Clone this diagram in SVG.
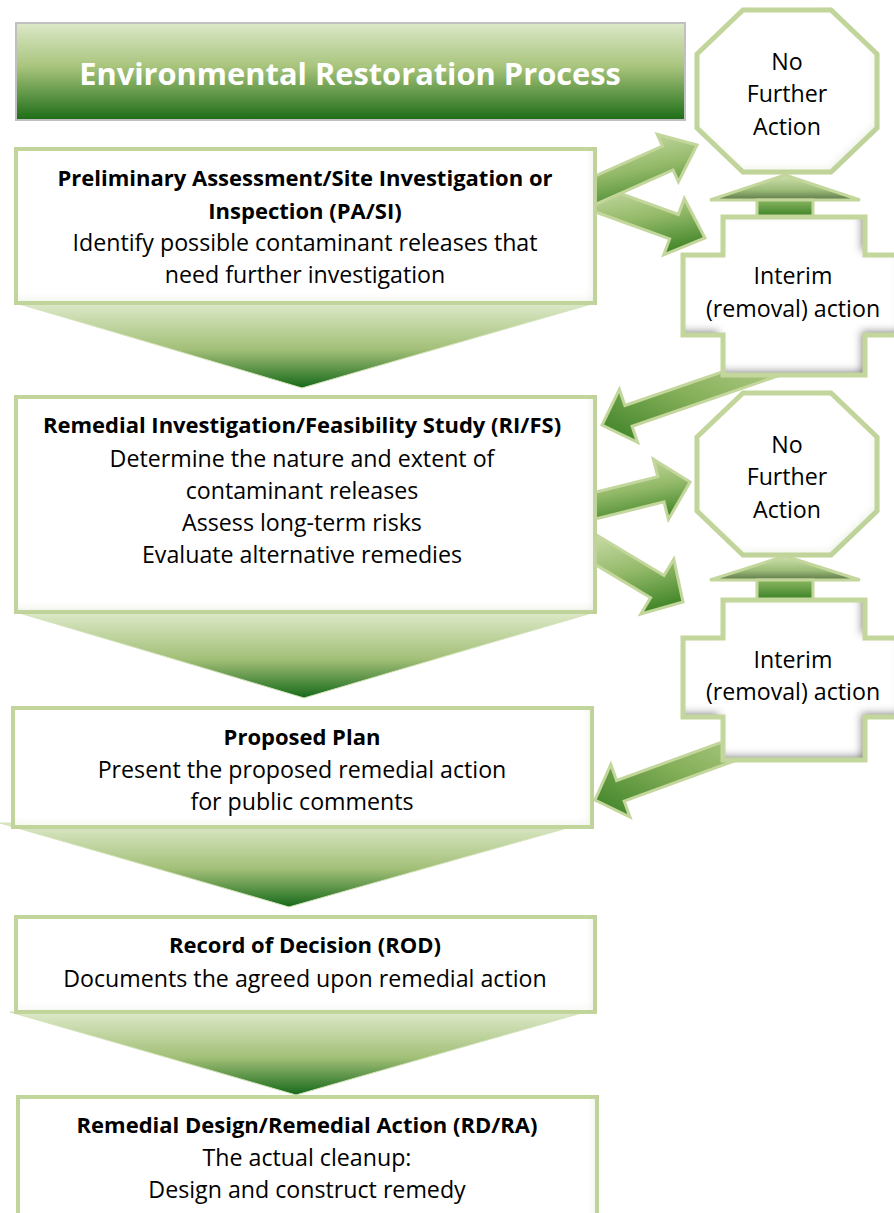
<svg xmlns="http://www.w3.org/2000/svg" width="894" height="1213" viewBox="0 0 894 1213">
<defs>
<style>
.t{font-family:"Open Sans","Liberation Sans",sans-serif;font-size:23.2px;fill:#000;text-anchor:middle}
.b{font-weight:bold;font-size:22px}
.box{fill:#fff;stroke:#c3d69b;stroke-width:4}
.oct{fill:#fff;stroke:#c3d69b;stroke-width:5;stroke-linejoin:miter}
.chev{fill:url(#chevG);stroke:#d3e2b8;stroke-width:1}
.arr{stroke:#c3d69b;stroke-width:3;stroke-linejoin:miter}
.title{font-family:"Open Sans","Liberation Sans",sans-serif;font-size:30.8px;font-weight:bold;fill:#fff;text-anchor:middle}
</style>
<linearGradient id="titleG" x1="0" y1="0" x2="0" y2="1">
<stop offset="0" stop-color="#dce8c8"/>
<stop offset="0.45" stop-color="#a8c47c"/>
<stop offset="1" stop-color="#1c6c16"/>
</linearGradient>
<linearGradient id="chevG" x1="0" y1="0" x2="0" y2="1">
<stop offset="0" stop-color="#dde9c9"/>
<stop offset="0.55" stop-color="#a2bf77"/>
<stop offset="1" stop-color="#16691a"/>
</linearGradient>
<linearGradient id="arrDown" x1="0.3" y1="0" x2="0.6" y2="1">
<stop offset="0" stop-color="#c8dba6"/>
<stop offset="0.5" stop-color="#93b968"/>
<stop offset="1" stop-color="#3f8427"/>
</linearGradient>
<linearGradient id="arrLeft" x1="1" y1="0" x2="0" y2="1">
<stop offset="0" stop-color="#b9d08f"/>
<stop offset="0.5" stop-color="#86b05a"/>
<stop offset="1" stop-color="#3a8025"/>
</linearGradient>
<linearGradient id="upHead" x1="0" y1="0" x2="0" y2="1">
<stop offset="0" stop-color="#d0e1b0"/>
<stop offset="0.6" stop-color="#9cbc78"/>
<stop offset="1" stop-color="#5d7748"/>
</linearGradient>
<linearGradient id="upShaft" x1="0" y1="0" x2="0" y2="1">
<stop offset="0" stop-color="#8ab661"/>
<stop offset="1" stop-color="#2f7a1e"/>
</linearGradient>
<filter id="boxShade" x="-5%" y="-5%" width="110%" height="110%">
<feComponentTransfer in="SourceAlpha"><feFuncA type="table" tableValues="1 0"/></feComponentTransfer>
<feGaussianBlur stdDeviation="5"/>
<feOffset dx="-3" dy="-4" result="ob"/>
<feFlood flood-color="#b7cc98" flood-opacity="0.45"/>
<feComposite in2="ob" operator="in"/>
<feComposite in2="SourceAlpha" operator="in" result="sh"/>
<feMerge><feMergeNode in="SourceGraphic"/><feMergeNode in="sh"/></feMerge>
</filter>
<filter id="crossShade" x="-10%" y="-10%" width="120%" height="120%">
<feComponentTransfer in="SourceAlpha"><feFuncA type="table" tableValues="1 0"/></feComponentTransfer>
<feGaussianBlur stdDeviation="4"/>
<feOffset dx="-4" dy="-4" result="ob"/>
<feFlood flood-color="#505050" flood-opacity="0.9"/>
<feComposite in2="ob" operator="in"/>
<feComposite in2="SourceAlpha" operator="in" result="sh"/>
<feMerge><feMergeNode in="SourceGraphic"/><feMergeNode in="sh"/></feMerge>
</filter>
</defs>
<rect width="894" height="1213" fill="#fff"/>

<g id="connectors">
<polygon class="chev" points="16,303 595,303 302,388"/>
<polygon class="chev" points="16,612 595,612 304,698"/>
<polygon class="chev" points="0,823 585,823 289,907"/>
<polygon class="chev" points="10,1012 585,1012 296,1095"/>
<polygon class="arr" fill="url(#arrDown)" points="591.9,183.1 678.4,214.5 684.3,198.5 705,238 663.7,254.9 669.6,238.9 583.1,207.5"/>
<polygon class="arr" fill="url(#arrDown)" points="577.5,183.9 662.5,146.1 657.2,134.2 697,145 678.4,181.8 673.1,169.9 588.1,207.7"/>
<polygon class="arr" fill="url(#arrLeft)" points="778,352.7 624.9,405.5 619.4,389.4 602,425 637.6,442.4 632.1,426.3 784.9,373.5"/>
<polygon class="arr" fill="url(#arrDown)" points="580.2,496 657.8,476.7 653.4,459.2 690,482 668.4,519.4 664,501.9 586.4,521.2"/>
<polygon class="arr" fill="url(#arrDown)" points="591.1,531.7 664,575.5 673.8,559.2 683,602 640.8,614 650.6,597.7 577.7,553.9"/>
<polygon class="arr" fill="url(#arrLeft)" points="765,726.4 616.6,780.5 610.8,764.5 595,800 630,817.1 624.2,801.1 772.6,747"/>
<g class="arr">
<polygon fill="url(#upHead)" points="785,175 860,200 710,200"/>
<rect x="757" y="200" width="56" height="19" fill="url(#upShaft)"/>
</g>
<g class="arr">
<polygon fill="url(#upHead)" points="785,556 860,580 710,580"/>
<rect x="757" y="580" width="56" height="22" fill="url(#upShaft)"/>
</g>
</g>

<g id="title">
<rect x="16" y="23" width="669" height="97" fill="url(#titleG)" stroke="#c0c0c0" stroke-width="2"/>
<text class="title" x="350" y="85">Environmental Restoration Process</text>
</g>

<g id="pasi">
<rect class="box" x="16" y="149" width="579" height="154" filter="url(#boxShade)"/>
<text class="t b" x="305" y="186">Preliminary Assessment/Site Investigation or</text>
<text class="t b" x="305" y="219">Inspection (PA/SI)</text>
<text class="t" x="305" y="251">Identify possible contaminant releases that</text>
<text class="t" x="305" y="283">need further investigation</text>
</g>

<g id="rifs">
<rect class="box" x="16" y="397" width="579" height="215" filter="url(#boxShade)"/>
<text class="t b" x="302" y="433">Remedial Investigation/Feasibility Study (RI/FS)</text>
<text class="t" x="302" y="467">Determine the nature and extent of</text>
<text class="t" x="302" y="499">contaminant releases</text>
<text class="t" x="302" y="531">Assess long-term risks</text>
<text class="t" x="302" y="563">Evaluate alternative remedies</text>
</g>

<g id="plan">
<rect class="box" x="13" y="708" width="579" height="119" filter="url(#boxShade)"/>
<text class="t b" x="302" y="745">Proposed Plan</text>
<text class="t" x="302" y="778">Present the proposed remedial action</text>
<text class="t" x="302" y="810">for public comments</text>
</g>

<g id="rod">
<rect class="box" x="16" y="917" width="579" height="95" filter="url(#boxShade)"/>
<text class="t b" x="305" y="953">Record of Decision (ROD)</text>
<text class="t" x="305" y="987">Documents the agreed upon remedial action</text>
</g>

<g id="rdra">
<rect class="box" x="18" y="1097" width="579" height="130" filter="url(#boxShade)"/>
<text class="t b" x="307" y="1133">Remedial Design/Remedial Action (RD/RA)</text>
<text class="t" x="307" y="1166">The actual cleanup:</text>
<text class="t" x="307" y="1198">Design and construct remedy</text>
</g>

<g id="nfa1">
<polygon class="oct" points="743,10 831,10 877,54 877,128 831,172 743,172 697,128 697,54" filter="url(#boxShade)"/>
<text class="t" x="787" y="70">No</text>
<text class="t" x="787" y="102">Further</text>
<text class="t" x="787" y="135">Action</text>
</g>

<g id="interim1">
<path d="M723,217 H865 V255 H905 V335 H865 V375 H723 V335 H683 V255 H723 Z" fill="#fff" filter="url(#crossShade)"/>
<path d="M723,217 H865 V255 H905 V335 H865 V375 H723 V335 H683 V255 H723 Z" fill="none" stroke="#c3d69b" stroke-width="5"/>
<text class="t" x="793" y="284">Interim</text>
<text class="t" x="793" y="317">(removal) action</text>
</g>

<g id="nfa2">
<polygon class="oct" points="743,393 831,393 877,437 877,511 831,555 743,555 697,511 697,437" filter="url(#boxShade)"/>
<text class="t" x="787" y="453">No</text>
<text class="t" x="787" y="485">Further</text>
<text class="t" x="787" y="518">Action</text>
</g>

<g id="interim2">
<path d="M723,600 H865 V638 H905 V717 H865 V760 H723 V717 H683 V638 H723 Z" fill="#fff" filter="url(#crossShade)"/>
<path d="M723,600 H865 V638 H905 V717 H865 V760 H723 V717 H683 V638 H723 Z" fill="none" stroke="#c3d69b" stroke-width="5"/>
<text class="t" x="793" y="668">Interim</text>
<text class="t" x="793" y="700">(removal) action</text>
</g>
</svg>
